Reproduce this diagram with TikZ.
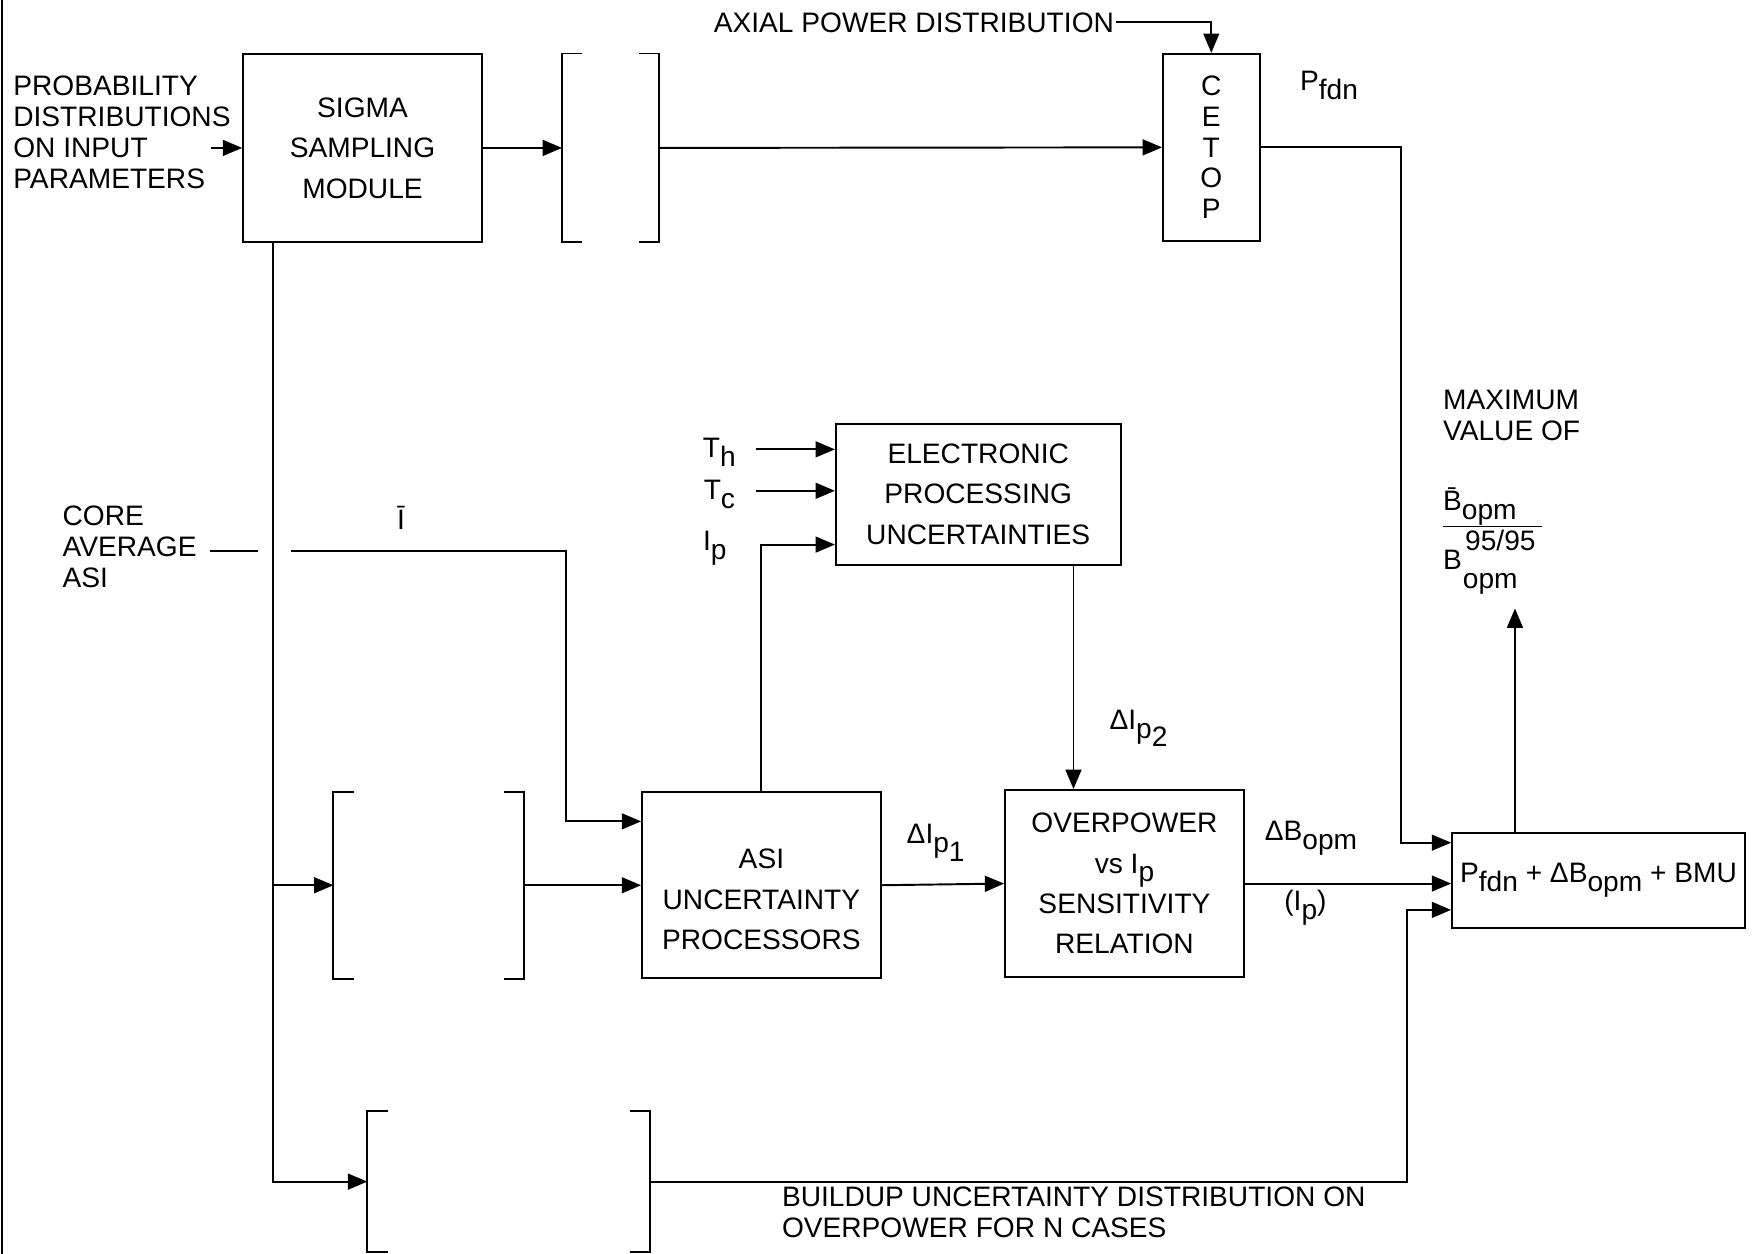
\documentclass[tikz,border=0pt]{standalone}
\usepackage{fontspec}
\setmainfont{Liberation Sans}
\usetikzlibrary{arrows.meta}

\newcommand{\lo}[1]{\raisebox{-0.6ex}{#1}}

\begin{document}
\begin{tikzpicture}[x=0.0224cm,y=-0.0224cm,
  every node/.style={font=\fontsize{16}{17.6}\selectfont,inner sep=1pt},
  blk/.style={draw,line width=1.1pt,align=center,font=\fontsize{16}{23}\selectfont},
  ghost/.style={inner sep=0pt},
  ln/.style={line width=1.1pt},
  arr/.style={line width=1.1pt,-{Triangle[length=11pt,width=9pt]}}]
\useasboundingbox (0,0) rectangle (1568,1119);
\draw[ln] (2,0) -- (2,1119);

% blocks
\node[blk,minimum width=4.77cm,minimum height=3.76cm] (sigma) at (323.5,132) {SIGMA\\SAMPLING\\MODULE};
\node[blk,minimum width=1.93cm,minimum height=3.74cm,font=\fontsize{16}{17.5}\selectfont] (cetop) at (1081,131.5) {C\\E\\T\\O\\P};
\node[blk,minimum width=5.69cm,minimum height=2.82cm] (elec) at (873,441) {ELECTRONIC\\PROCESSING\\UNCERTAINTIES};
\node[blk,minimum width=4.77cm,minimum height=3.72cm] (asi) at (679.5,790) {\raisebox{-9pt}[\height][\depth]{\begin{tabular}{@{}c@{}}ASI\\UNCERTAINTY\\PROCESSORS\end{tabular}}};
\node[blk,minimum width=4.77cm,minimum height=3.74cm] (over) at (1003.5,788.5) {OVERPOWER\\vs I\lo{p}\\SENSITIVITY\\RELATION};
\node[blk,minimum width=5.85cm,minimum height=1.90cm] (final) at (1426.5,785.5) {P\lo{fdn} + ΔB\lo{opm} + BMU};

% empty brackets
\node[ghost,minimum width=1.93cm,minimum height=3.76cm] (br1) at (545,132) {};
\node[ghost,minimum width=3.79cm,minimum height=3.72cm] (br2) at (382.5,790) {};
\node[ghost,minimum width=5.64cm,minimum height=2.80cm] (br3) at (454,1054.5) {};
\draw[ln] ([xshift=11.5pt]br1.north west) -- (br1.north west) -- (br1.south west) -- ([xshift=11.5pt]br1.south west);
\draw[ln] ([xshift=-11.5pt]br1.north east) -- (br1.north east) -- (br1.south east) -- ([xshift=-11.5pt]br1.south east);
\draw[ln] ([xshift=11.5pt]br2.north west) -- (br2.north west) -- (br2.south west) -- ([xshift=11.5pt]br2.south west);
\draw[ln] ([xshift=-11.5pt]br2.north east) -- (br2.north east) -- (br2.south east) -- ([xshift=-11.5pt]br2.south east);
\draw[ln] ([xshift=11.5pt]br3.north west) -- (br3.north west) -- (br3.south west) -- ([xshift=11.5pt]br3.south west);
\draw[ln] ([xshift=-11.5pt]br3.north east) -- (br3.north east) -- (br3.south east) -- ([xshift=-11.5pt]br3.south east);

% texts
\node[anchor=west,align=left] (prob) at (10,118) {PROBABILITY\\DISTRIBUTIONS\\ON INPUT\\PARAMETERS};
\node[anchor=west,align=left] (core) at (54,488) {CORE\\AVERAGE\\ASI};
\node[anchor=east] (axial) at (996,20) {AXIAL POWER DISTRIBUTION};
\node (pfdn) at (1186,76) {P\lo{fdn}};
\node[anchor=north west,align=left] (maxv) at (1286,346) {MAXIMUM\\VALUE OF};
\node (ibar) at (358,462) {\=I};
\node (th) at (642,404) {T\lo{h}};
\node (tc) at (642,441) {T\lo{c}};
\node (ip) at (638,489) {I\lo{p}};
\node (dip1) at (835,752) {ΔI\lo{p\lo{1}}};
\node (dip2) at (1016,650) {ΔI\lo{p\lo{2}}};
\node (dbopm) at (1170,748) {ΔB\lo{opm}};
\node (ipar) at (1165,810) {(I\lo{p})};
\node[anchor=west] (bnum) at (1286,452) {\=B\lo{opm}};
\node (b95) at (1339,482) {95/95};
\node[anchor=west] (bden) at (1286,500) {B};
\node (bopm) at (1330,521) {opm};
\draw[line width=0.8pt] (1288,470) -- (1376,470);
\node[anchor=north west,align=left] (buildup) at (696,1057) {BUILDUP UNCERTAINTY DISTRIBUTION ON\\OVERPOWER FOR N CASES};

% connectors
\coordinate (pin) at (188,132);
\coordinate (thin) at (675,401);
\coordinate (tcin) at (675,438);
\coordinate (ipin) at (0,486);
\coordinate (e2) at (958,0);
\coordinate (vx) at (244,0);
\coordinate (k0) at (187,492);
\coordinate (k1) at (230,492);
\coordinate (k2) at (260,492);
\coordinate (k3) at (505,733);
\coordinate (c1) at (1250,752);
\coordinate (c3) at (1256,812);
\coordinate (bout) at (1352,543);

\draw[arr] (pin) -- (pin -| sigma.west);
\draw[arr] (sigma.east) -- (br1.west);
\draw[arr] (br1.east) -- (cetop.west);
\draw[arr] (axial.east) -| (cetop.north);
\draw[arr] (cetop.east) -| (c1) -- (c1 -| final.west);
\draw[arr] (over.east) -- (over.east -| final.west);
\draw[arr] (br3.east) -| (c3) -- (c3 -| final.west);
\draw[arr] (final.north -| bout) -- (bout);
\draw[arr] (sigma.south -| vx) |- (br3.west);
\draw[arr] (vx |- br2.west) -- (br2.west);
\draw[arr] (br2.east) -- (asi.west);
\draw[ln] (k0) -- (k1);
\draw[arr] (k2) -| (k3) -- (k3 -| asi.west);
\draw[arr] (asi.east) -- (over.west);
\draw[arr] (thin) -- (thin -| elec.west);
\draw[arr] (tcin) -- (tcin -| elec.west);
\draw[arr] (asi.north) |- (ipin -| elec.west);
\draw[arr] (elec.south -| e2) -- (over.north -| e2);
\end{tikzpicture}
\end{document}
